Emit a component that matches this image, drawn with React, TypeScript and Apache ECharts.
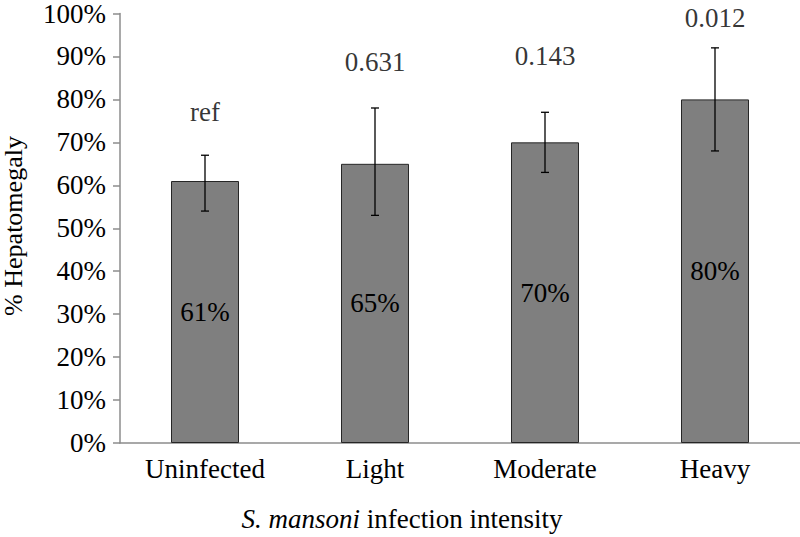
import React, { useEffect, useRef } from "react";
import * as echarts from "echarts";

const categories = ["Uninfected", "Light", "Moderate", "Heavy"];
const prevalence = [61, 65, 70, 80];
const errorLow = [54, 53, 63, 68];
const errorHigh = [67, 78, 77, 92];
const pValues = ["ref", "0.631", "0.143", "0.012"];
const pValueY = [76.2, 87.8, 89.2, 98.1];
const yTicks = [0, 10, 20, 30, 40, 50, 60, 70, 80, 90, 100];

const FONT = '"Times New Roman", "Liberation Serif", Times, serif';

export default function App() {
  const ref = useRef<HTMLDivElement>(null);
  useEffect(() => {
    document.body.style.margin = "0";
    const chart = echarts.init(ref.current!, null, { renderer: "svg" });
    chart.setOption({
      animation: false,
      backgroundColor: "#ffffff",
      textStyle: { fontFamily: FONT },
      grid: { left: 120, right: 0, top: 10, bottom: 94, containLabel: false },
      xAxis: {
        type: "category",
        data: categories,
        axisLine: { lineStyle: { color: "#8c8c8c", width: 1.5 } },
        axisTick: { show: false },
        axisLabel: { color: "#000", fontFamily: FONT, fontSize: 27, margin: 12 },
      },
      yAxis: {
        type: "value",
        min: yTicks[0],
        max: yTicks[yTicks.length - 1],
        interval: 10,
        splitLine: { show: false },
        axisLine: { show: true, lineStyle: { color: "#8c8c8c", width: 1.5 } },
        axisTick: { show: true, length: 7, lineStyle: { color: "#8c8c8c", width: 1.5 } },
        axisLabel: {
          color: "#000",
          fontFamily: FONT,
          fontSize: 27,
          margin: 14,
          formatter: (v: number) => `${v}%`,
        },
      },
      graphic: [
        {
          type: "text",
          x: 13,
          y: 226,
          rotation: Math.PI / 2,
          style: {
            text: "% Hepatomegaly",
            font: `26px ${FONT}`,
            fill: "#000",
            textAlign: "center",
            textVerticalAlign: "middle",
          },
        },
        {
          type: "text",
          x: 402,
          y: 519,
          style: {
            rich: {
              it: { fontFamily: FONT, fontSize: 27, fontStyle: "italic", fill: "#000" },
              n: { fontFamily: FONT, fontSize: 27, fill: "#000" },
            },
            text: "{it|S. mansoni}{n| infection intensity}",
            fontFamily: FONT,
            fontSize: 27,
            textAlign: "center",
            textVerticalAlign: "middle",
          },
        },
      ],
      series: [
        {
          type: "bar",
          data: prevalence,
          barWidth: "40%",
          itemStyle: { color: "#7f7f7f", borderColor: "#262626", borderWidth: 1 },
          label: {
            show: true,
            position: "inside",
            color: "#000",
            fontFamily: FONT,
            fontSize: 27,
            formatter: (p: any) => `${p.value}%`,
          },
        },
        {
          type: "custom",
          data: categories.map((c, i) => [i, errorLow[i], errorHigh[i]]),
          encode: { x: 0, y: [1, 2] },
          z: 10,
          renderItem: (params: any, api: any) => {
            const x = api.value(0);
            const lo = api.coord([x, api.value(1)]);
            const hi = api.coord([x, api.value(2)]);
            const cap = 4;
            const style = { stroke: "#000", lineWidth: 1.3 };
            return {
              type: "group",
              children: [
                { type: "line", shape: { x1: hi[0], y1: hi[1], x2: lo[0], y2: lo[1] }, style },
                { type: "line", shape: { x1: hi[0] - cap, y1: hi[1], x2: hi[0] + cap, y2: hi[1] }, style },
                { type: "line", shape: { x1: lo[0] - cap, y1: lo[1], x2: lo[0] + cap, y2: lo[1] }, style },
              ],
            };
          },
        },
        {
          type: "scatter",
          data: categories.map((c, i) => [i, pValueY[i]]),
          symbolSize: 0,
          label: {
            show: true,
            position: "inside",
            offset: [0, -4],
            color: "#000",
            fontFamily: FONT,
            fontSize: 27,
            formatter: (p: any) => pValues[p.dataIndex],
          },
        },
      ],
    });
    return () => chart.dispose();
  }, []);
  return <div ref={ref} style={{ width: 800, height: 537 }} />;
}
